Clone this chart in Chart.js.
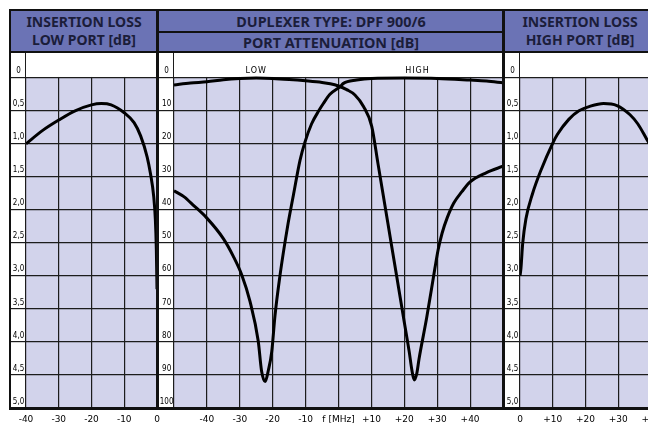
<!DOCTYPE html>
<html lang="en">
<head>
  <meta charset="UTF-8">
  <title>Duplexer DPF 900/6</title>
  <script src="https://cdn.jsdelivr.net/npm/chart.js"></script>
  <style>
    html, body { margin: 0; padding: 0; width: 648px; height: 423px; overflow: hidden; background: #fff; }
    .bar { position: absolute; background: #111; z-index: 5; }
    .head { position: absolute; background: #6b73b5; z-index: 3; }
    .txt { position: absolute; left: 0; right: 0; text-align: center; color: #1b1d3a;
           font-family: "Noto Sans", sans-serif; font-weight: bold; font-size: 14px; line-height: 16px; white-space: nowrap; }
    canvas { position: absolute; z-index: 1; }
  </style>
</head>
<body>
  <!-- headers -->
  <div class="head" style="left:11px; top:11px; width:146px; height:41px;">
    <div class="txt" style="top:3px;">INSERTION LOSS</div>
    <div class="txt" style="top:21px;">LOW PORT [dB]</div>
  </div>
  <div class="head" style="left:158px; top:11px; width:346px; height:41px;">
    <div class="txt" style="top:3px; font-size:14.4px;">DUPLEXER TYPE: DPF 900/6</div>
    <div class="txt" style="top:24px; font-size:14.4px;">PORT ATTENUATION [dB]</div>
  </div>
  <div class="head" style="left:504px; top:11px; width:152px; height:41px;">
    <div class="txt" style="top:3px;">INSERTION LOSS</div>
    <div class="txt" style="top:21px;">HIGH PORT [dB]</div>
  </div>

  <!-- frame lines -->
  <div class="bar" style="left:9px; top:9px; width:650px; height:2px;"></div>
  <div class="bar" style="left:9px; top:9px; width:2px; height:401px;"></div>
  <div class="bar" style="left:9px; top:51px; width:650px; height:2px;"></div>
  <div class="bar" style="left:158px; top:31px; width:346px; height:1.5px;"></div>
  <div class="bar" style="left:156px; top:9px; width:3px; height:401px;"></div>
  <div class="bar" style="left:502px; top:9px; width:3px; height:401px;"></div>
  <div class="bar" style="left:9px; top:407px; width:650px; height:3px;"></div>

  <canvas id="left" width="156" height="370" style="left:11px; top:53px;"></canvas>
  <canvas id="mid" width="354" height="370" style="left:159px; top:53px;"></canvas>
  <canvas id="right" width="146" height="370" style="left:505px; top:53px;"></canvas>

  <script>
    // insertion loss, low port (MHz, dB)
    const lowLossFreq = [-40, -35, -30, -25, -20, -17, -14, -10, -7, -5, -3, -2, -1, -0.5, -0.2, 0];
    const lowLossDb   = [1.0, 0.8, 0.64, 0.5, 0.41, 0.39, 0.41, 0.53, 0.68, 0.88, 1.2, 1.45, 1.8, 2.15, 2.6, 3.2];

    // insertion loss, high port (MHz, dB)
    const highLossFreq = [0, 0.3, 0.8, 1.8, 3.8, 6.4, 9.9, 11.4, 14.9, 18, 21.5, 25.5, 29.6, 33.6, 36, 38.7, 40];
    const highLossDb   = [3.0, 2.88, 2.52, 2.14, 1.76, 1.40, 1.0, 0.86, 0.63, 0.5, 0.43, 0.39, 0.42, 0.56, 0.7, 0.93, 1.04];

    // port attenuation, low port (MHz, dB)
    const lowAttFreq = [-50, -45, -40, -35, -30, -25, -20, -15, -10, -5, -2.5, 0, 2.5, 5, 7.6, 10.1, 12, 14, 16, 18, 20, 21.5, 22.3, 23, 23.8, 24.5, 26.8, 29.3, 30.3, 31.5, 33, 35, 37.5, 40, 45, 50];
    const lowAttDb   = [2.2, 1.6, 1.2, 0.6, 0.25, 0.1, 0.2, 0.5, 0.9, 1.4, 1.8, 2.5, 3.6, 5.2, 8.7, 14.7, 26, 38, 50, 62, 74, 83, 88.5, 91.5, 89.5, 85, 72.7, 57.7, 52, 47, 42.5, 38, 34.5, 31.5, 28.7, 26.8];

    // port attenuation, high port (MHz, dB)
    const highAttFreq = [-50, -47, -44, -40, -35, -32, -29.4, -26.9, -24.4, -23.4, -22.3, -21.3, -20.3, -19.3, -17.8, -16.3, -15.3, -13.7, -11.7, -10.2, -8.2, -6, -4.6, -2.6, 0.5, 1.5, 5.5, 10, 20, 30, 40, 45, 50];
    const highAttDb   = [34.2, 36, 38.7, 42.5, 48.7, 54, 59.7, 67.7, 79.7, 88.7, 92, 88.5, 83, 72, 60, 50, 44, 35.5, 25, 19.5, 14, 10, 7.8, 5, 2.7, 1.7, 0.7, 0.2, 0.1, 0.2, 0.7, 1.0, 1.5];

    const lossTicks = [0, 0.5, 1, 1.5, 2, 2.5, 3, 3.5, 4, 4.5, 5];
    const attTicks = [0, 10, 20, 30, 40, 50, 60, 70, 80, 90, 100];
    const lowFreqTicks = [-40, -30, -20, -10, 0];
    const midFreqTicks = [-50, -40, -30, -20, -10, 0, 10, 20, 30, 40, 50];
    const highFreqTicks = [0, 10, 20, 30, 40];

    const LAV = '#d2d3eb';
    const GRID = '#1c1c1c';

    const pts = (xs, ys) => xs.map((x, i) => ({ x, y: ys[i] }));

    // lavender plot, white band above the 0 line
    const panelBg = {
      id: 'panelBg',
      beforeDraw(chart) {
        const { ctx, chartArea: a, scales } = chart;
        const y0 = scales.y.getPixelForValue(0);
        ctx.save();
        ctx.fillStyle = LAV;
        ctx.fillRect(a.left, y0, a.right - a.left, a.bottom - y0);
        ctx.restore();
      },
      beforeDatasetsDraw(chart) {
        const { ctx, chartArea: a, scales } = chart;
        const y0 = scales.y.getPixelForValue(0);
        ctx.save();
        ctx.fillStyle = '#fff';
        ctx.fillRect(a.left, a.top, a.right - a.left, y0 - a.top - 0.8);
        const lbl = chart.options.plugins.panelBg.labels || [];
        ctx.fillStyle = '#000';
        ctx.font = '8px "DejaVu Sans"';
        ctx.textAlign = 'center';
        ctx.textBaseline = 'middle';
        try { ctx.letterSpacing = '1px'; } catch (e) {}
        lbl.forEach(l => ctx.fillText(l.text, scales.x.getPixelForValue(l.x), (a.top + y0) / 2 + 6));
        ctx.restore();
      }
    };

    function makePanel(id, cfg) {
      return new Chart(document.getElementById(id), {
        type: 'line',
        data: {
          datasets: cfg.series.map(s => ({
            data: s,
            borderColor: '#000',
            borderWidth: 3,
            pointRadius: 0,
            fill: false,
            cubicInterpolationMode: 'monotone'
          }))
        },
        options: {
          responsive: false,
          animation: false,
          layout: { padding: { right: cfg.padRight || 0 } },
          plugins: { legend: { display: false }, tooltip: { enabled: false }, panelBg: { labels: cfg.labels } },
          scales: {
            x: {
              type: 'linear', min: cfg.xMin, max: cfg.xMax,
              afterBuildTicks: s => { s.ticks = cfg.xTicks.map(v => ({ value: v })); },
              afterFit: s => { s.height = 15; s.paddingLeft = 0; s.paddingRight = 0; },
              grid: { color: GRID, lineWidth: 1.2, drawTicks: false },
              border: { display: false },
              ticks: {
                padding: 6, autoSkip: false, maxRotation: 0, color: '#000',
                font: { family: 'DejaVu Sans', size: 9 },
                callback: cfg.xLabel
              }
            },
            y: {
              type: 'linear', reverse: true, min: cfg.yMin, max: cfg.yMax,
              afterBuildTicks: s => { s.ticks = cfg.yTicks.map(v => ({ value: v })); },
              afterFit: s => { s.width = 15; s.paddingTop = 0; s.paddingBottom = 0; },
              grid: { color: GRID, lineWidth: 1.2, drawTicks: true, tickLength: 15, tickColor: GRID, tickWidth: 1.2 },
              border: { display: false },
              ticks: {
                padding: cfg.yPad, crossAlign: 'center', labelOffset: -6.5, autoSkip: false, color: '#000',
                font: { family: 'DejaVu Sans Condensed', size: 8 },
                callback: cfg.yLabel
              }
            }
          }
        },
        plugins: [panelBg]
      });
    }

    const lossLabel = v => v.toFixed(1).replace('.', ',').replace(/^0,0$/, '0');
    const sign = v => v === 0 ? '0' : (v > 0 ? '+' + v : '-' + Math.abs(v));

    makePanel('left', {
      series: [pts(lowLossFreq, lowLossDb)], padRight: 10, yPad: -13.3,
      xMin: -40, xMax: 0, xTicks: lowFreqTicks, xLabel: v => v === 0 ? '0' : '-' + Math.abs(v),
      yMin: -0.375, yMax: 5, yTicks: lossTicks, yLabel: lossLabel
    });

    makePanel('mid', {
      series: [pts(lowAttFreq, lowAttDb), pts(highAttFreq, highAttDb)], padRight: 10, yPad: -14.5,
      labels: [{ text: 'LOW', x: -25 }, { text: 'HIGH', x: 24 }],
      xMin: -50, xMax: 50, xTicks: midFreqTicks,
      xLabel: v => Math.abs(v) === 50 ? '' : (v === 0 ? 'f [MHz]' : sign(v)),
      yMin: -7.5, yMax: 100, yTicks: attTicks, yLabel: v => String(v)
    });

    makePanel('right', {
      series: [pts(highLossFreq, highLossDb)], yPad: -13.3,
      xMin: 0, xMax: 40, xTicks: highFreqTicks, xLabel: sign,
      yMin: -0.375, yMax: 5, yTicks: lossTicks, yLabel: lossLabel
    });
  </script>
</body>
</html>
